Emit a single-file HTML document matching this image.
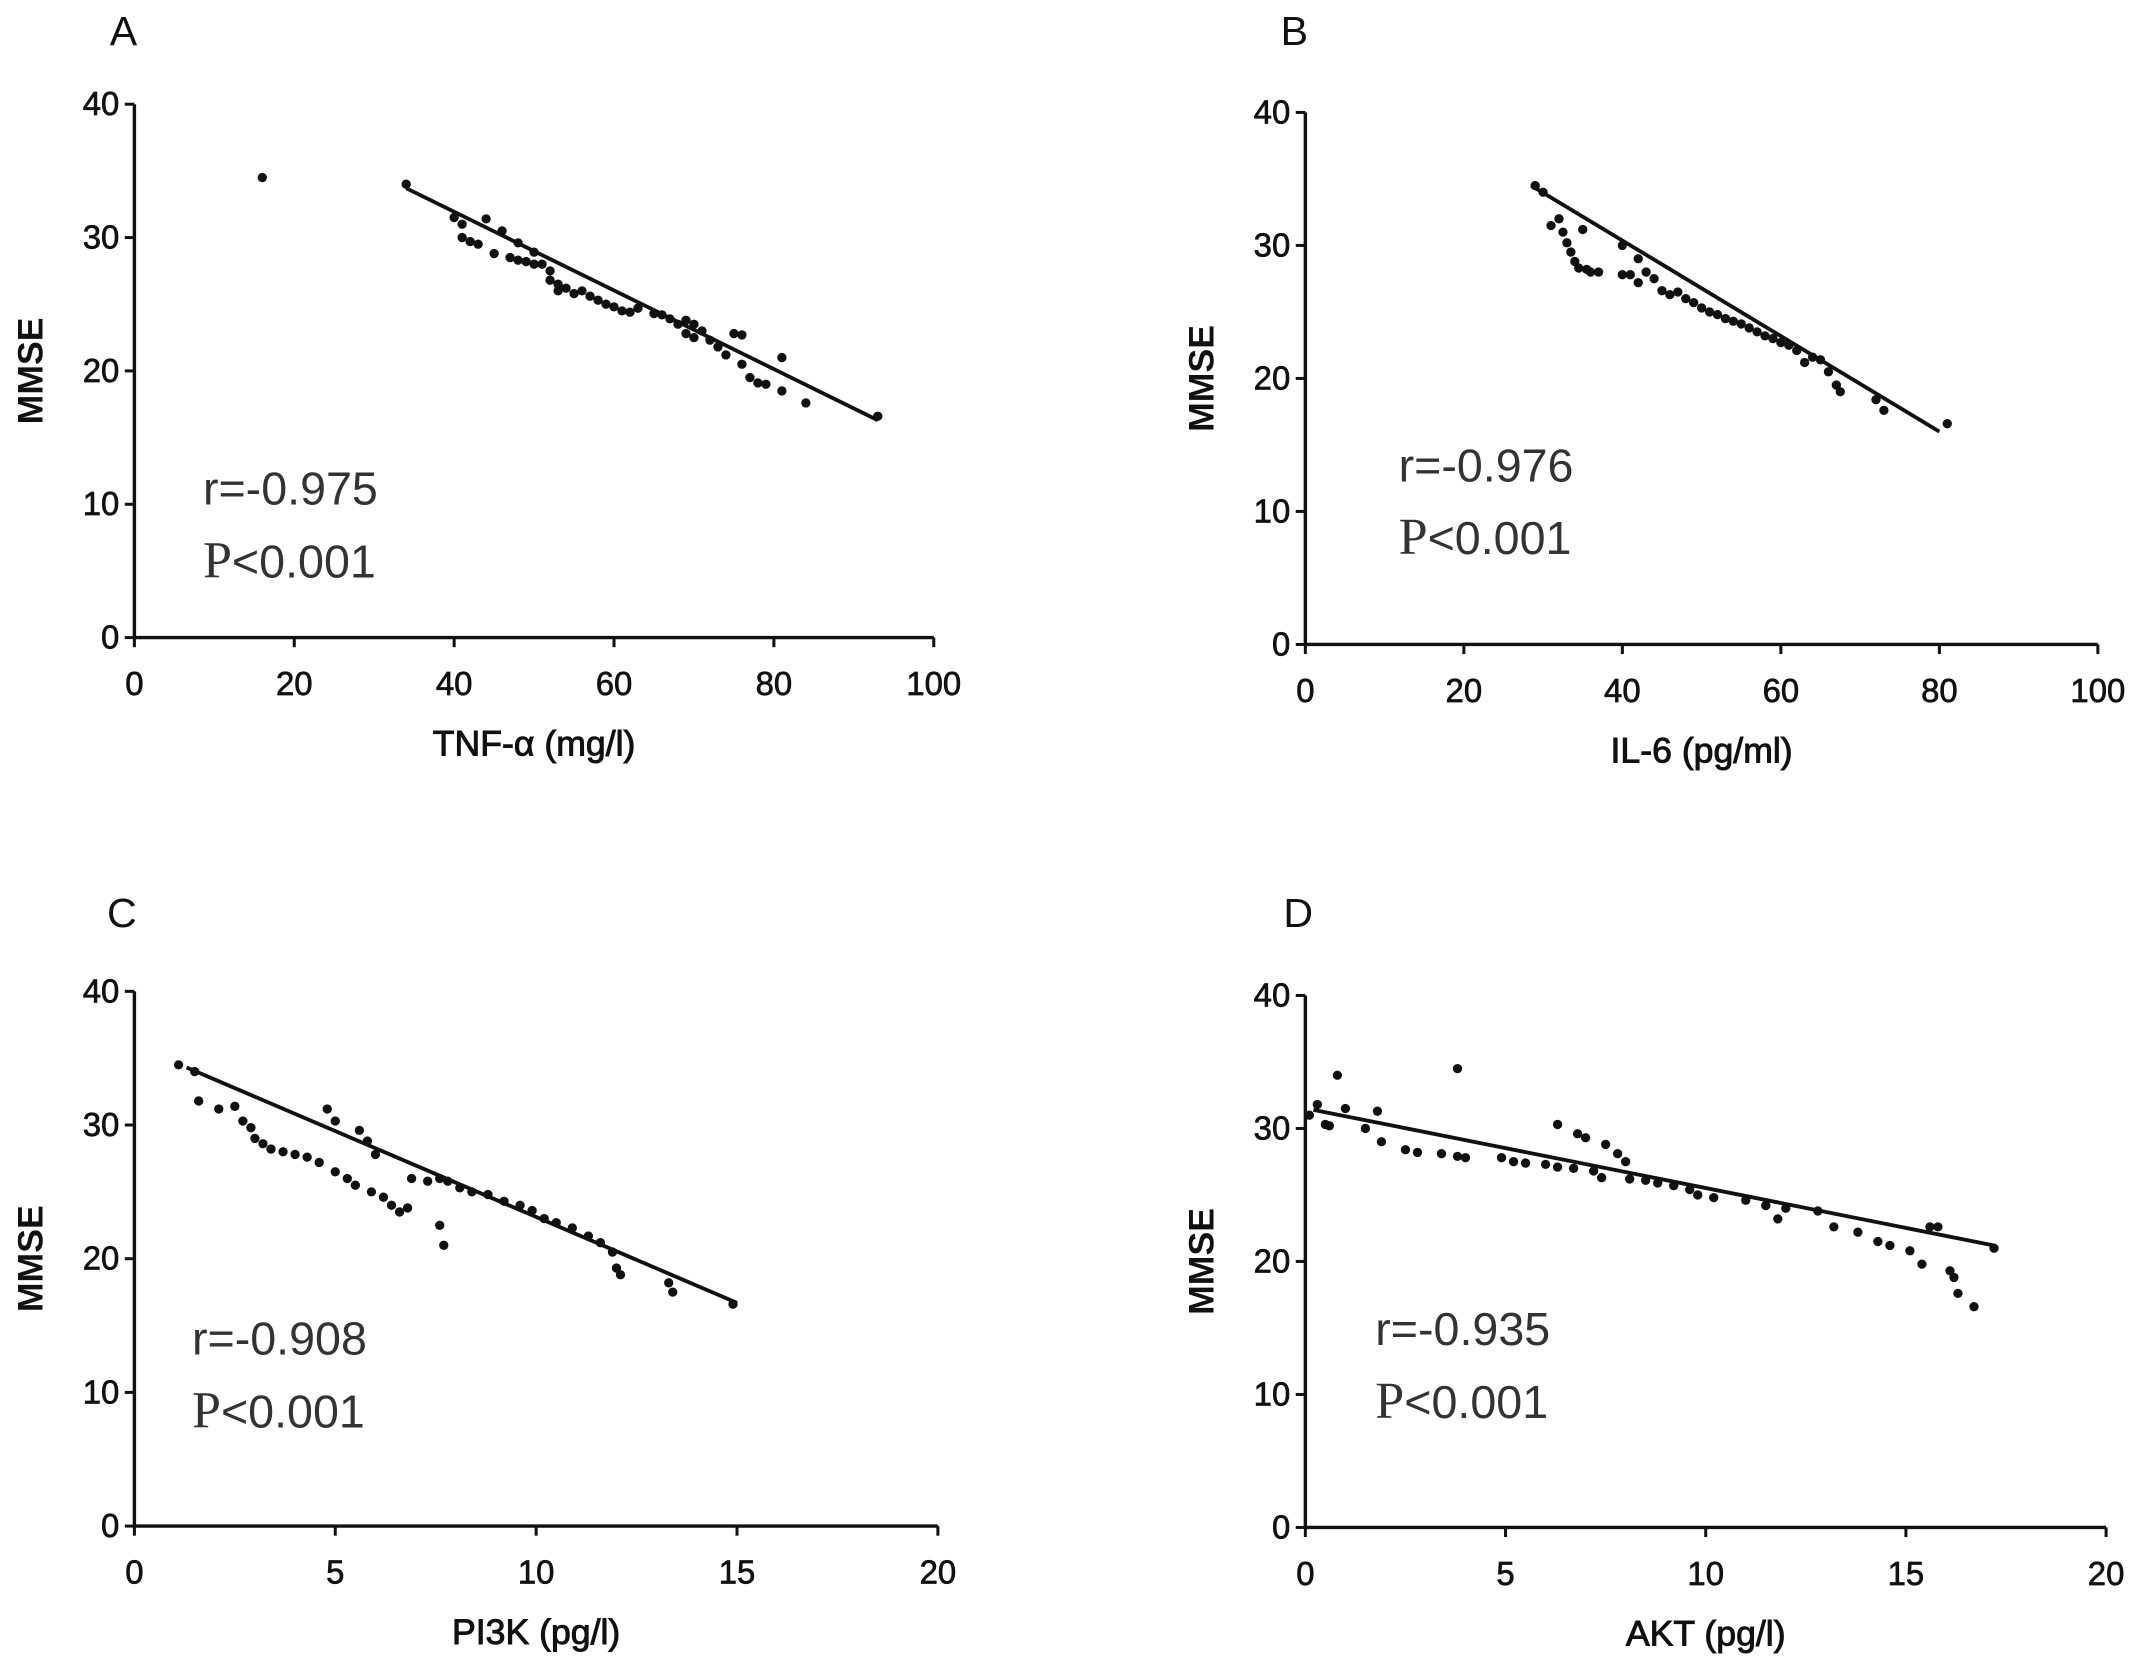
<!DOCTYPE html>
<html><head><meta charset="utf-8"><style>
html,body{margin:0;padding:0;background:#fff;}
svg{display:block;font-family:"Liberation Sans",Arial,sans-serif;}
</style></head><body>
<svg id="fig" width="2150" height="1668" viewBox="0 0 1568 1216.5" xmlns="http://www.w3.org/2000/svg"></svg>
<script>
// Panel A: TNF-α vs MMSE
const aX=[16,34,40,41,41,42,43,44,45,46,47,48,48,49,50,50,51,52,52,53,53,54,55,56,57,58,59,60,61,62,63,65,66,67,68,69,69,70,70,71,72,73,74,75,76,76,77,78,79,81,81,84,93];
const aY=[34.5,34,31.5,31,30,29.7,29.5,31.4,28.8,30.5,28.5,29.6,28.3,28.2,28.9,28,28,27.5,26.8,26.5,26,26.2,25.8,26,25.6,25.3,25,24.8,24.5,24.4,24.7,24.3,24.2,23.9,23.5,23.8,22.8,23.5,22.5,23,22.3,21.8,21.2,22.8,22.7,20.5,19.5,19.1,19,21,18.5,17.6,16.6];
const aFit=[[34,33.7],[93,16.3]];
// Panel B: IL-6 vs MMSE
const bX=[29,30,31,32,32.5,33,33.5,34,34.5,35,35.5,36,37,40,40,41,42,42,43,44,45,46,47,48,49,50,51,52,53,54,55,56,57,58,59,60,61,62,63,64,65,66,67,67.5,72,73,81];
const bY=[34.5,34,31.5,32,31,30.2,29.5,28.8,28.3,31.2,28.2,28,28,30,27.8,27.8,29,27.2,28,27.5,26.6,26.3,26.5,26,25.7,25.3,25,24.8,24.5,24.3,24.1,23.8,23.5,23.2,23,22.7,22.5,22.1,21.2,21.6,21.4,20.5,19.5,19,18.4,17.6,16.6];
const bFit=[[28.5,34.5],[80,16]];
// Panel C: PI3K vs MMSE
const cX=[1.1,1.5,1.6,2.1,2.5,2.7,2.9,3.0,3.2,3.4,3.7,4.0,4.3,4.6,4.8,5.0,5.0,5.3,5.5,5.6,5.8,5.9,6.0,6.2,6.4,6.6,6.8,6.9,7.3,7.6,7.6,7.7,7.8,8.1,8.4,8.8,9.2,9.6,9.9,10.2,10.5,10.9,11.3,11.6,11.9,12.0,12.1,13.3,13.4,14.9];
const cY=[34.5,34,31.8,31.2,31.4,30.3,29.8,29,28.6,28.2,28,27.8,27.6,27.2,31.2,30.3,26.5,26,25.5,29.6,28.8,25,27.8,24.6,24,23.5,23.8,26,25.8,22.5,26,21,25.8,25.3,25,24.8,24.3,24,23.6,23,22.7,22.3,21.7,21.2,20.5,19.3,18.8,18.2,17.5,16.6];
const cFit=[[1.3,34.3],[15,16.7]];
// Panel D: AKT vs MMSE
const dX=[0.1,0.3,0.5,0.6,0.8,1.0,1.5,1.8,1.9,2.5,2.8,3.4,3.8,3.8,4.0,4.9,5.2,5.5,6.0,6.3,6.3,6.7,6.8,7.0,7.2,7.4,7.5,7.8,8.0,8.1,8.5,8.8,9.2,9.6,9.8,10.2,11.0,11.5,11.8,12.0,12.8,13.2,13.8,14.3,14.6,15.1,15.4,15.6,15.8,16.1,16.2,16.3,16.7,17.2];
const dY=[31,31.8,30.3,30.2,34,31.5,30,31.3,29,28.4,28.2,28.1,34.5,27.9,27.8,27.8,27.5,27.4,27.3,27.1,30.3,27,29.6,29.3,26.8,26.3,28.8,28.1,27.5,26.2,26.1,25.9,25.7,25.4,25,24.8,24.6,24.2,23.2,24,23.8,22.6,22.2,21.5,21.2,20.8,19.8,22.6,22.6,19.3,18.8,17.6,16.6,21];
const dFit=[[0.2,31.4],[17.2,21.2]];

const yTicks=[0,10,20,30,40];
const xTicksAB=[0,20,40,60,80,100];
const xTicksCD=[0,5,10,15,20];

const NS="http://www.w3.org/2000/svg";
const svg=document.getElementById('fig');
function el(tag,attrs,parent){const e=document.createElementNS(NS,tag);for(const k in attrs)e.setAttribute(k,attrs[k]);(parent||svg).appendChild(e);return e;}

function panel(cfg,xs,ys,fit,xTicks){
  const g=el('g',{});
  
  
  const xmax=xTicks[xTicks.length-1];
  const sx=v=>cfg.x0+(cfg.x1-cfg.x0)*v/xmax;
  const sy=v=>cfg.y0+(cfg.y1-cfg.y0)*v/40;
  const L=el('text',{x:cfg.lx,y:cfg.ly,'font-size':30,fill:'#111'},g);L.textContent=cfg.letter;
  
  
  const ya=el('line',{x1:cfg.x0,y1:sy(40),x2:cfg.x0,y2:cfg.y0,stroke:'#111','stroke-width':2.5},g);
  
  
  const xa=el('line',{x1:cfg.x0,y1:cfg.y0,x2:sx(xmax),y2:cfg.y0,stroke:'#111','stroke-width':2.5},g);
  
  
  yTicks.forEach(t=>{
    el('line',{x1:cfg.x0-7,y1:sy(t),x2:cfg.x0,y2:sy(t),stroke:'#111','stroke-width':2.2},g);
    const tx=el('text',{x:cfg.x0-11,y:sy(t)+8,'font-size':24,'text-anchor':'end',fill:'#111',stroke:'#111','stroke-width':0.5},g);tx.textContent=t;
    
    
  });
  xTicks.forEach(t=>{
    el('line',{x1:sx(t),y1:cfg.y0,x2:sx(t),y2:cfg.y0+7,stroke:'#111','stroke-width':2.2},g);
    const tx=el('text',{x:sx(t),y:cfg.y0+42,'font-size':24,'text-anchor':'middle',fill:'#111',stroke:'#111','stroke-width':0.5},g);tx.textContent=t;
    
    
  });
  const xt=el('text',{x:(cfg.x0+sx(xmax))/2,y:cfg.y0+86,'font-size':26,'text-anchor':'middle',fill:'#111',stroke:'#111','stroke-width':0.7},g);xt.textContent=cfg.xTitle;
  
  
  const cy=(cfg.y0+sy(40))/2;
  const yt=el('text',{x:0,y:0,'font-size':26,'font-weight':'bold','text-anchor':'middle',fill:'#111',transform:`translate(${cfg.x0-67},${cy}) rotate(-90)`},g);yt.textContent='MMSE';
  
  
  const fl=el('line',{x1:sx(fit[0][0]),y1:sy(fit[0][1]),x2:sx(fit[1][0]),y2:sy(fit[1][1]),stroke:'#111','stroke-width':2.8},g);
  
  
  xs.forEach((v,i)=>{
    const c=el('circle',{cx:sx(v),cy:sy(ys[i]),r:3.4,fill:'#111'},g);
    
    
  });
  const r=el('text',{x:cfg.rx,y:cfg.ry,'font-size':34,fill:'#333'},g);r.textContent=cfg.r;
  
  
  const p=el('text',{x:cfg.rx,y:cfg.ry+53,'font-size':34,fill:'#333'},g);
  
  
  const ps=el('tspan',{'font-family':'"Liberation Serif",serif','font-size':38},p);ps.textContent='P';
  const pt=el('tspan',{},p);pt.textContent='<0.001';
}

panel({letter:'A',lx:80,ly:33,x0:98,x1:681,y0:465,y1:76,xTitle:'TNF-α (mg/l)',rx:148,ry:368,r:'r=-0.975'},aX,aY,aFit,xTicksAB);
panel({letter:'B',lx:934,ly:33,x0:952,x1:1530,y0:470,y1:82,xTitle:'IL-6 (pg/ml)',rx:1020,ry:351,r:'r=-0.976'},bX,bY,bFit,xTicksAB);
panel({letter:'C',lx:78,ly:676,x0:98,x1:684,y0:1113,y1:723,xTitle:'PI3K (pg/l)',rx:140,ry:988,r:'r=-0.908'},cX,cY,cFit,xTicksCD);
panel({letter:'D',lx:936,ly:676,x0:952,x1:1536,y0:1114,y1:726,xTitle:'AKT (pg/l)',rx:1003,ry:981,r:'r=-0.935'},dX,dY,dFit,xTicksCD);
</script>
</body></html>
